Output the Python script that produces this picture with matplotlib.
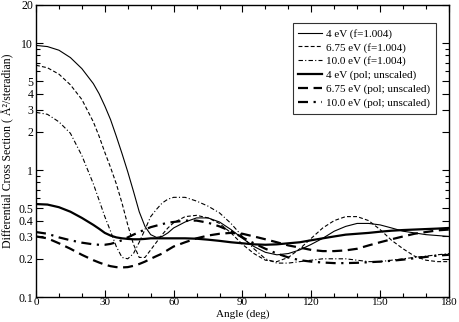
import matplotlib
matplotlib.use("Agg")
import matplotlib.pyplot as plt
from matplotlib.ticker import FixedLocator, NullFormatter

plt.rcParams['font.family'] = ['Liberation Serif', 'DejaVu Serif']

# Datos
angulos = [0, 5, 10, 15, 20, 25, 27.5, 30, 32.5, 35, 37.5, 40, 42.5, 45,
           47.5, 50, 52.5, 55, 57.5, 60, 65, 70, 75, 80, 85, 90, 95, 100,
           105, 110, 115, 120, 125, 130, 135, 140, 145, 150, 155, 160, 165,
           170, 175, 180]

e4_f = [9.6, 9.4, 8.8, 7.7, 6.3, 4.8, 4.0, 3.2, 2.5, 1.85, 1.35, 0.97, 0.68,
        0.47, 0.36, 0.31, 0.295, 0.30, 0.32, 0.35, 0.39, 0.42, 0.42, 0.39,
        0.34, 0.29, 0.25, 0.225, 0.215, 0.22, 0.235, 0.26, 0.29, 0.33, 0.36,
        0.38, 0.38, 0.37, 0.35, 0.33, 0.32, 0.31, 0.305, 0.30]

e675_f = [6.7, 6.4, 5.7, 4.7, 3.6, 2.4, 1.85, 1.38, 1.05, 0.78, 0.55, 0.37,
          0.26, 0.205, 0.205, 0.235, 0.27, 0.31, 0.35, 0.385, 0.43, 0.44,
          0.42, 0.38, 0.32, 0.26, 0.22, 0.195, 0.19, 0.205, 0.24, 0.29, 0.35,
          0.40, 0.43, 0.43, 0.40, 0.34, 0.28, 0.24, 0.21, 0.195, 0.19, 0.19]

e10_f = [2.85, 2.75, 2.4, 1.95, 1.3, 0.78, 0.58, 0.43, 0.33, 0.25, 0.205,
         0.2, 0.22, 0.27, 0.34, 0.43, 0.49, 0.55, 0.59, 0.61, 0.61, 0.57,
         0.52, 0.46, 0.38, 0.30, 0.24, 0.2, 0.185, 0.185, 0.19, 0.195, 0.2,
         0.2, 0.2, 0.195, 0.19, 0.19, 0.195, 0.2, 0.205, 0.21, 0.215, 0.22]

e4_pol = [0.54, 0.535, 0.51, 0.47, 0.42, 0.37, 0.345, 0.32, 0.305, 0.295,
          0.29, 0.287, 0.285, 0.285, 0.287, 0.29, 0.29, 0.29, 0.29, 0.29,
          0.29, 0.288, 0.283, 0.277, 0.27, 0.265, 0.26, 0.258, 0.26, 0.265,
          0.27, 0.28, 0.29, 0.30, 0.31, 0.315, 0.32, 0.327, 0.333, 0.337,
          0.34, 0.343, 0.346, 0.35]

e675_pol = [0.30, 0.29, 0.265, 0.24, 0.215, 0.195, 0.187, 0.18, 0.175, 0.172,
            0.171, 0.172, 0.176, 0.182, 0.19, 0.2, 0.21, 0.22, 0.235, 0.25,
            0.27, 0.29, 0.305, 0.315, 0.32, 0.315, 0.3, 0.285, 0.27, 0.255,
            0.245, 0.235, 0.23, 0.23, 0.233, 0.24, 0.255, 0.27, 0.285, 0.3,
            0.315, 0.325, 0.335, 0.34]

e10_pol = [0.325, 0.315, 0.295, 0.28, 0.268, 0.26, 0.258, 0.258, 0.262, 0.27,
           0.28, 0.295, 0.31, 0.325, 0.34, 0.355, 0.365, 0.375, 0.385, 0.39,
           0.4, 0.4, 0.385, 0.36, 0.33, 0.295, 0.265, 0.24, 0.22, 0.205,
           0.195, 0.19, 0.187, 0.185, 0.185, 0.186, 0.188, 0.19, 0.193,
           0.197, 0.202, 0.207, 0.212, 0.215]

etiquetas = ['4 eV (f=1.004)', '6.75 eV (f=1.004)', '10.0 eV (f=1.004)',
             '4 eV (pol; unscaled)', '6.75 eV (pol; unscaled)',
             '10.0 eV (pol; unscaled)']

y_mayores = [0.1, 0.2, 0.3, 0.4, 0.5, 1, 2, 3, 4, 5, 10, 20]
y_menores = [0.6, 0.7, 0.8, 0.9, 6, 7, 8, 9]
y_textos = ['0.1', '0.2', '0.3', '0.4', '0.5', '1', '2', '3', '4', '5',
            '10', '20']

# =========================================================================== #
fig = plt.figure(figsize=(4.59, 3.22), dpi=100)
ax = fig.add_axes([0.0784, 0.0776, 0.8996, 0.907])

ax.plot(angulos, e4_f, color='black', lw=0.8, label=etiquetas[0])
ax.plot(angulos, e675_f, color='black', lw=0.8, dashes=(3.5, 2),
        label=etiquetas[1])
ax.plot(angulos, e10_f, color='black', lw=0.8, dashes=(4, 2, 1, 2),
        label=etiquetas[2])
ax.plot(angulos, e4_pol, color='black', lw=1.6, label=etiquetas[3])
ax.plot(angulos, e675_pol, color='black', lw=1.6, dashes=(4.5, 2.5),
        label=etiquetas[4])
ax.plot(angulos, e10_pol, color='black', lw=1.6, dashes=(4.5, 2.5, 1, 2.5),
        label=etiquetas[5])

ax.set_yscale('log')
ax.set_xlim(0, 180)
ax.set_ylim(0.1, 20)
ax.yaxis.set_major_locator(FixedLocator(y_mayores))
ax.yaxis.set_minor_locator(FixedLocator(y_menores))
ax.set_yticklabels(y_textos)
ax.yaxis.set_minor_formatter(NullFormatter())
ax.set_xticks(range(0, 181, 30))
ax.set_xticks(range(0, 181, 10), minor=True)

ax.tick_params(which='both', direction='in', top=True, right=True,
               labelsize=8.5, pad=2)
ax.tick_params(axis='x', which='both', labelsize=8, pad=1)
ax.tick_params(which='major', length=5, width=0.8)
ax.tick_params(which='minor', length=3, width=0.8)
for s in ax.spines.values():
    s.set_linewidth(1.0)

ax.set_xlabel('Angle (deg)', fontsize=8)
ax.xaxis.set_label_coords(0.5, -0.043)
ax.set_ylabel('Differential Cross Section ( Å²/steradian)', fontsize=8.5,
              labelpad=3)

leg = ax.legend(loc='upper right', bbox_to_anchor=(0.9685, 0.938),
                borderaxespad=0, fontsize=8, frameon=True, fancybox=False,
                edgecolor='black', handlelength=2.1, labelspacing=0.35,
                borderpad=0.5, handletextpad=0.4)
leg.get_frame().set_linewidth(0.8)

fig.savefig('out.png', dpi=100)
